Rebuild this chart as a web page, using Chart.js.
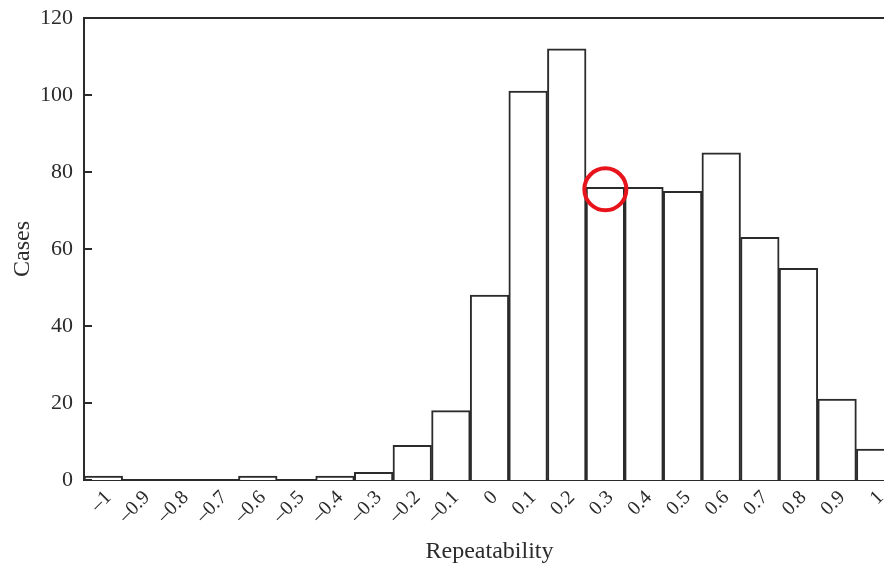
<!DOCTYPE html>
<html>
<head>
<meta charset="utf-8">
<script src="https://cdn.jsdelivr.net/npm/chart.js@4.4.0/dist/chart.umd.min.js"></script>
<style>
  html, body { margin: 0; padding: 0; overflow: hidden; background: #fff; }
  canvas { display: block; }
</style>
</head>
<body>
<canvas id="histChart" width="900" height="567"></canvas>
<script>
// repeatability bins and case counts
const binLabels = ["–1", "–0.9", "–0.8", "–0.7", "–0.6", "–0.5", "–0.4", "–0.3", "–0.2", "–0.1",
                   "0", "0.1", "0.2", "0.3", "0.4", "0.5", "0.6", "0.7", "0.8", "0.9", "1"];
const caseCounts = [1, 0, 0, 0, 1, 0, 1, 2, 9, 18, 48, 101, 112, 76, 76, 75, 85, 63, 55, 21, 8];
const yTicks = [0, 20, 40, 60, 80, 100, 120];

// red circle marking the 0.3 bin top
const markedBin = "0.3";
const markedValue = 75.5;

const ink = "#2b2b2b";
const serif = "'Liberation Serif', 'DejaVu Serif', serif";

// inner tick marks on the y axis + top frame line
const frame = {
  id: "frame",
  afterDatasetsDraw(chart) {
    const { ctx, chartArea, scales } = chart;
    ctx.save();
    ctx.strokeStyle = ink;
    ctx.lineWidth = 2;
    ctx.beginPath();
    ctx.moveTo(chartArea.left, chartArea.top);
    ctx.lineTo(chartArea.right + 30, chartArea.top);
    yTicks.forEach(v => {
      const y = scales.y.getPixelForValue(v);
      ctx.moveTo(chartArea.left, y);
      ctx.lineTo(chartArea.left + 8, y);
    });
    ctx.stroke();
    ctx.restore();
  }
};

new Chart(document.getElementById("histChart"), {
  type: "bar",
  data: {
    labels: binLabels,
    datasets: [
      {
        data: caseCounts,
        order: 1,
        backgroundColor: "#ffffff",
        borderColor: ink,
        borderWidth: 2,
        borderSkipped: "bottom",
        barPercentage: 1,
        categoryPercentage: 1
      },
      {
        type: "line",
        order: 0,
        data: binLabels.map(l => (l === markedBin ? markedValue : null)),
        showLine: false,
        pointRadius: 21,
        pointBorderWidth: 4,
        pointBorderColor: "#e8141c",
        pointBackgroundColor: "rgba(0,0,0,0)"
      }
    ]
  },
  options: {
    responsive: false,
    animation: false,
    events: [],
    layout: { autoPadding: false, padding: { top: 18, right: 5, left: 0, bottom: 0 } },
    plugins: { legend: { display: false }, tooltip: { enabled: false } },
    scales: {
      x: {
        grid: { display: false },
        border: { display: true, color: ink, width: 2 },
        ticks: {
          autoSkip: false,
          maxRotation: 45,
          minRotation: 45,
          padding: -2,
          labelOffset: 5,
          color: ink,
          font: { family: serif, size: 20 }
        },
        title: {
          display: true,
          text: "Repeatability",
          color: ink,
          font: { family: serif, size: 24 },
          padding: { top: 0, bottom: 1 }
        },
        afterFit(scale) { scale.height = 87; }
      },
      y: {
        min: 0,
        max: 120,
        afterBuildTicks(scale) { scale.ticks = yTicks.map(v => ({ value: v })); },
        grid: { display: false },
        border: { display: true, color: ink, width: 2 },
        ticks: {
          padding: 3,
          color: ink,
          font: { family: serif, size: 22 }
        },
        title: {
          display: true,
          text: "Cases",
          color: ink,
          font: { family: serif, size: 24 },
          padding: { top: 8, bottom: 0 }
        },
        afterFit(scale) {
          scale.width = 84;
          scale.paddingTop = 0;
          scale.paddingBottom = 0;
        }
      }
    }
  },
  plugins: [frame]
});
</script>
</body>
</html>
